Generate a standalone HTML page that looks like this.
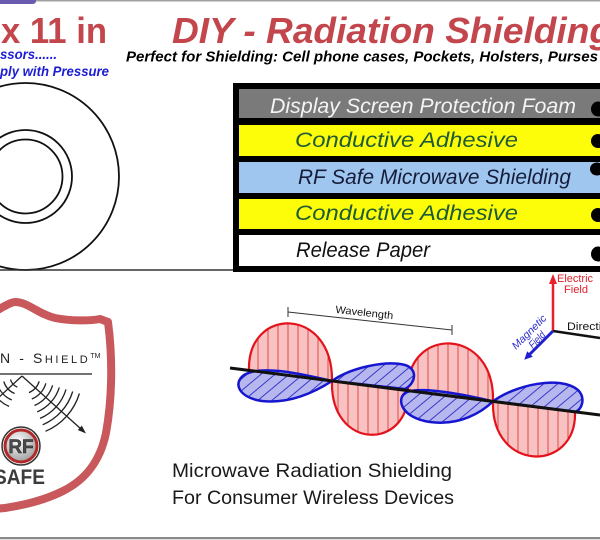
<!DOCTYPE html>
<html><head><meta charset="utf-8"><style>
html,body{margin:0;padding:0;background:#fff;width:600px;height:540px;overflow:hidden}
svg{display:block}
</style></head><body>
<svg width="600" height="540" viewBox="0 0 600 540" xmlns="http://www.w3.org/2000/svg" font-family="'Liberation Sans', sans-serif">
<defs>
<pattern id="rv" width="10" height="10" patternUnits="userSpaceOnUse" x="3">
<rect width="10" height="10" fill="#f8c2c2"/>
<line x1="5" y1="0" x2="5" y2="10" stroke="#e23a3a" stroke-width="0.9"/>
</pattern>
<pattern id="bh" width="9" height="9" patternUnits="userSpaceOnUse" patternTransform="rotate(50)">
<rect width="9" height="9" fill="#b7b7f0"/>
<line x1="4.5" y1="0" x2="4.5" y2="9" stroke="#2a2ac4" stroke-width="0.9"/>
</pattern>
<radialGradient id="rfg" cx="0.4" cy="0.35" r="0.7">
<stop offset="0" stop-color="#ffffff"/><stop offset="1" stop-color="#9a9a9a"/>
</radialGradient>
</defs>

<!-- top border and tab -->
<rect x="0" y="0" width="600" height="1.5" fill="#a0a0a0"/>
<path d="M0 0 H36 V1 Q36 4 32 4 H0 Z" fill="#6b5bb0"/>

<!-- header texts -->
<text x="1" y="43" font-size="36" font-weight="bold" fill="#c2464c" textLength="106" lengthAdjust="spacingAndGlyphs">x 11 in</text>
<text x="172" y="43" font-size="36" font-weight="bold" font-style="italic" fill="#c2464c" textLength="440" lengthAdjust="spacingAndGlyphs">DIY - Radiation Shielding</text>
<text x="126" y="61.5" font-size="15" font-weight="bold" font-style="italic" fill="#000" textLength="472" lengthAdjust="spacingAndGlyphs">Perfect for Shielding: Cell phone cases, Pockets, Holsters, Purses</text>
<text x="0" y="59" font-size="14" font-weight="bold" font-style="italic" fill="#1c1cd4" textLength="57" lengthAdjust="spacingAndGlyphs">ssors......</text>
<text x="0" y="76" font-size="14" font-weight="bold" font-style="italic" fill="#1c1cd4" textLength="109" lengthAdjust="spacingAndGlyphs">ply with Pressure</text>

<!-- rings -->
<circle cx="25.5" cy="176.5" r="93.5" fill="none" stroke="#111" stroke-width="1.8"/>
<circle cx="25.5" cy="176.5" r="46.5" fill="none" stroke="#111" stroke-width="1.8"/>
<circle cx="25.5" cy="176.5" r="37" fill="none" stroke="#111" stroke-width="1.8"/>
<line x1="0" y1="270" x2="236" y2="270" stroke="#333" stroke-width="1.5"/>

<!-- layer box -->
<rect x="233" y="83" width="380" height="189" fill="#000"/>
<rect x="239" y="89" width="370" height="29" fill="#7a7a7a"/>
<rect x="239" y="125" width="370" height="31" fill="#fdfd0a"/>
<rect x="239" y="162" width="370" height="31" fill="#9fc6ee"/>
<rect x="239" y="199" width="370" height="30" fill="#fdfd0a"/>
<rect x="239" y="235" width="370" height="31" fill="#ffffff"/>
<text x="270" y="113" font-size="21" font-style="italic" fill="#f4f4f4" textLength="306" lengthAdjust="spacingAndGlyphs">Display Screen Protection Foam</text>
<text x="295" y="147" font-size="21" font-style="italic" fill="#1e5a33" textLength="223" lengthAdjust="spacingAndGlyphs">Conductive Adhesive</text>
<text x="298" y="184" font-size="21" font-style="italic" fill="#161d3a" textLength="273" lengthAdjust="spacingAndGlyphs">RF Safe Microwave Shielding</text>
<text x="295" y="220" font-size="21" font-style="italic" fill="#1e5a33" textLength="223" lengthAdjust="spacingAndGlyphs">Conductive Adhesive</text>
<text x="296" y="257" font-size="21" font-style="italic" fill="#111" textLength="134" lengthAdjust="spacingAndGlyphs">Release Paper</text>
<ellipse cx="598" cy="109" rx="7" ry="7.5" fill="#000"/>
<ellipse cx="598" cy="141" rx="7" ry="7" fill="#000"/>
<ellipse cx="597" cy="169" rx="7" ry="6.5" fill="#000"/>
<ellipse cx="598" cy="215" rx="7" ry="7" fill="#000"/>
<ellipse cx="598" cy="254" rx="7" ry="7.5" fill="#000"/>

<!-- shield logo -->
<path d="M -30 322 C -10 318, 5 303, 15 302 C 28 302, 38 314, 55 318 C 70 321, 90 321, 100 319 L 108 322 C 113 360, 112 400, 106 433 C 100 462, 85 480, 63 491 C 45 500, 25 505, 5 508 L -40 512 Z" fill="#fff" stroke="#c8585b" stroke-width="8" stroke-linejoin="round"/>
<text x="0" y="363" font-size="14" fill="#222" letter-spacing="2.6">N - S<tspan font-size="11">HIELD</tspan><tspan font-size="7" dy="-5" letter-spacing="0">TM</tspan></text>
<line x1="0" y1="374" x2="92" y2="374" stroke="#444" stroke-width="1.5"/>
<g fill="none" stroke="#222" stroke-width="1.3">
<path d="M39.2 381.3 A18 18 0 0 1 29 392.6"/>
<path d="M45.9 383.3 A25 25 0 0 1 31.8 399"/>
<path d="M52.6 385.3 A32 32 0 0 1 34.5 405.5"/>
<path d="M59.3 387.4 A39 39 0 0 1 37.2 411.9"/>
<path d="M66 389.4 A46 46 0 0 1 40 418.4"/>
<path d="M72.7 391.5 A53 53 0 0 1 42.7 424.8"/>
<path d="M79.4 393.5 A60 60 0 0 1 45.5 431.3"/>
<path d="M17.3 387.1 A12 12 0 0 1 10.5 379.5"/>
<path d="M14.6 393.5 A19 19 0 0 1 3.8 381.5"/>
<path d="M11.8 400 A26 26 0 0 1 -2.9 383.6"/>
<path d="M9.1 406.4 A33 33 0 0 1 -9.5 385.6"/>
<line x1="-15" y1="410" x2="22" y2="376"/>
<line x1="22" y1="376" x2="81" y2="429"/>
</g>
<polygon points="86,433.5 77.8,430 81.8,425.6" fill="#222"/>
<circle cx="21" cy="446" r="19" fill="#fff" stroke="#333" stroke-width="1.5"/>
<circle cx="21" cy="446" r="16" fill="url(#rfg)" stroke="#b02a2a" stroke-width="3"/>
<text x="21" y="453" text-anchor="middle" font-weight="bold" font-size="19" fill="#4a4a4a" stroke="#222" stroke-width="0.4">RF</text>
<text x="-6" y="484" font-size="21" font-weight="bold" fill="#3c3c3c" textLength="51" lengthAdjust="spacingAndGlyphs">SAFE</text>

<!-- wave diagram -->
<line x1="288" y1="312" x2="452" y2="330" stroke="#333" stroke-width="1"/>
<line x1="288" y1="307" x2="288" y2="317" stroke="#333" stroke-width="1"/>
<line x1="452" y1="325" x2="452" y2="335" stroke="#333" stroke-width="1"/>
<text x="364" y="316" text-anchor="middle" font-size="10.5" fill="#111" transform="rotate(6.3 364 316)" textLength="58" lengthAdjust="spacingAndGlyphs">Wavelength</text>

<g stroke="#e3121b" stroke-width="2.2" fill="url(#rv)">
<path d="M 249 370.4 C 247 306, 333 306, 332 381 Z"/>
<path d="M 332 381 C 330 451, 410 451, 408 390.6 Z"/>
<path d="M 408 390.6 C 406 326, 495 326, 493 401.4 Z"/>
<path d="M 493 401.4 C 491 473, 577 473, 575 411.8 Z"/>
</g>
<g stroke="#1616d0" stroke-width="2.5" fill="url(#bh)">
<path d="M 332 381 C 305 375, 262 364, 244 375 C 232 384, 240 398, 262 401 C 290 404, 315 392, 332 381 Z"/>
<path d="M 332 381 C 350 368, 385 360, 405 365 C 418 369, 416 383, 405 389 L 332 381 Z"/>
<path d="M 493 401.4 C 470 396, 420 385, 405 393 C 396 400, 402 418, 430 422 C 460 426, 482 412, 493 401.4 Z"/>
<path d="M 493 401.4 C 515 385, 560 375, 578 390 C 586 398, 582 410, 575 412 L 493 401.4 Z"/>
</g>
<line x1="230" y1="368" x2="600" y2="415" stroke="#111" stroke-width="3"/>

<!-- axes -->
<line x1="553" y1="331" x2="553" y2="282" stroke="#e8202a" stroke-width="2.5"/>
<polygon points="549,284 557,284 553,274" fill="#e8202a"/>
<text x="557" y="282" font-size="11" fill="#e0202a" textLength="36" lengthAdjust="spacingAndGlyphs">Electric</text>
<text x="564" y="293" font-size="11" fill="#e0202a" textLength="24" lengthAdjust="spacingAndGlyphs">Field</text>
<line x1="553" y1="331" x2="600" y2="338" stroke="#111" stroke-width="2.5"/>
<text x="567" y="330" font-size="11" fill="#111" textLength="48" lengthAdjust="spacingAndGlyphs">Direction</text>
<line x1="553" y1="331" x2="529" y2="355" stroke="#2020d0" stroke-width="3"/>
<polygon points="524.3,359.7 532.8,356.8 527.2,351.2" fill="#2020d0"/>
<text x="516" y="350" font-size="10.5" font-style="italic" fill="#2a2ad0" transform="rotate(-45 516 350)" textLength="44" lengthAdjust="spacingAndGlyphs">Magnetic</text>
<text x="532.7" y="349" font-size="10.5" font-style="italic" fill="#2a2ad0" transform="rotate(-45 532.7 349)" textLength="19" lengthAdjust="spacingAndGlyphs">Field</text>

<!-- bottom caption -->
<text x="172" y="477" font-size="19.5" fill="#1a1a1a" textLength="280" lengthAdjust="spacingAndGlyphs">Microwave Radiation Shielding</text>
<text x="172" y="504" font-size="19.5" fill="#1a1a1a" textLength="282" lengthAdjust="spacingAndGlyphs">For Consumer Wireless Devices</text>

<!-- bottom border -->
<rect x="0" y="537" width="600" height="2" fill="#8a8a8a"/>
<rect x="0" y="539" width="600" height="1" fill="#dddddd"/>
</svg>
</body></html>
